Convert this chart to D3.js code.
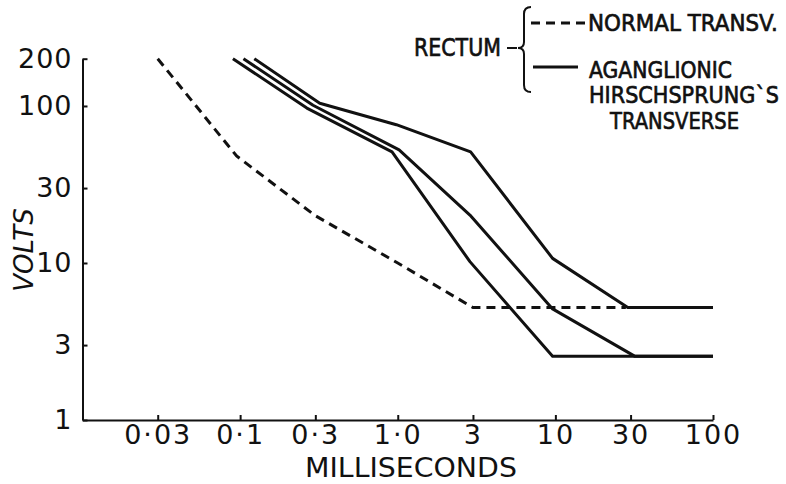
<!DOCTYPE html>
<html>
<head>
<meta charset="utf-8">
<script src="https://cdn.jsdelivr.net/npm/d3@7"></script>
<style>
  html, body { margin: 0; padding: 0; background: #fff; }
  svg { display: block; }
  .tick text { font-family: "DejaVu Sans", sans-serif; fill: #111; }
</style>
</head>
<body>
<svg id="chart" width="786" height="484"></svg>
<script>
// ---- data ----
const xTicks = [0.03, 0.1, 0.3, 1, 3, 10, 30, 100];
const xTickLabels = ["0·03", "0·1", "0·3", "1·0", "3", "10", "30", "100"];
const yTicks = [1, 3, 10, 30, 100, 200];
const yTickLabels = ["1", "3", "10", "30", "100", "200"];

// Normal transverse (dashed)
const normalX = [0.03, 0.095, 0.3, 1, 3, 28];
const normalY = [200, 48, 20, 10, 5.2, 5.2];
// Aganglionic Hirschsprung's transverse (solid), three curves
const aganA_X = [0.123, 0.32, 0.98, 2.9, 9.6, 28.8, 100];
const aganA_Y = [200, 104, 76, 51, 10.7, 5.2, 5.2];
const aganB_X = [0.105, 0.29, 1.02, 2.87, 9.6, 31.8, 100];
const aganB_Y = [200, 101, 52.5, 20.2, 5.1, 2.55, 2.55];
const aganC_X = [0.09, 0.265, 0.92, 2.87, 9.6, 100];
const aganC_Y = [200, 97, 51, 10.2, 2.55, 2.55];

const svg = d3.select("#chart");
const ink = "#111";

const x = d3.scaleLog().domain([0.01, 100]).range([82.5, 713]);
const y = d3.scaleLog().domain([1, 200]).range([420, 58.7]);

// axes
const xAxis = d3.axisBottom(x).tickValues(xTicks)
  .tickFormat((d, i) => xTickLabels[i]).tickSize(-5).tickSizeOuter(0).tickPadding(5);
const gx = svg.append("g").attr("transform", `translate(0,${y(1)})`).call(xAxis);
gx.selectAll("text").attr("font-size", 27).style("letter-spacing", "2px");

const yAxis = d3.axisLeft(y).tickValues(yTicks)
  .tickFormat((d, i) => yTickLabels[i]).tickSize(-5).tickSizeOuter(0).tickPadding(10);
const gy = svg.append("g").attr("transform", `translate(${x(0.01)},0)`).call(yAxis);
gy.selectAll("text").attr("font-size", 27).style("letter-spacing", "1px");

svg.selectAll(".domain, .tick line").attr("stroke", ink).attr("stroke-width", 2);

// text fitted to a width by horizontal scaling
function fitText(parent, t, xPos, yPos, width, size, extra) {
  const el = parent.append("text").attr("x", 0).attr("y", 0)
    .attr("font-family", "DejaVu Sans, sans-serif").attr("font-size", size)
    .attr("fill", ink).text(t);
  if (extra) extra(el);
  const w = el.node().getComputedTextLength();
  el.attr("transform", `translate(${xPos},${yPos}) scale(${width / w},1)`);
  return el;
}

// axis titles
fitText(svg, "MILLISECONDS", 305, 477, 212, 27);
svg.append("text").attr("transform", "translate(33,250) rotate(-90)")
  .attr("text-anchor", "middle").attr("font-family", "DejaVu Sans, sans-serif")
  .attr("font-style", "italic").attr("font-size", 26).attr("fill", ink).text("VOLTS");

// lines
const line = d3.line().x(d => x(d[0])).y(d => y(d[1]));
const zip = (a, b) => a.map((v, i) => [v, b[i]]);

svg.append("path").datum(zip(normalX, normalY)).attr("d", line)
  .attr("fill", "none").attr("stroke", ink).attr("stroke-width", 3)
  .attr("stroke-dasharray", "9,6");

[[aganA_X, aganA_Y], [aganB_X, aganB_Y], [aganC_X, aganC_Y]].forEach(([xs, ys]) => {
  svg.append("path").datum(zip(xs, ys)).attr("d", line)
    .attr("fill", "none").attr("stroke", ink).attr("stroke-width", 3)
    .attr("stroke-linejoin", "round");
});

// legend
const lg = svg.append("g");
const bolden = el => el.attr("stroke", ink).attr("stroke-width", 0.7);
fitText(lg, "RECTUM", 414, 56, 87, 24, bolden);
lg.append("line").attr("x1", 507).attr("x2", 517).attr("y1", 48).attr("y2", 48)
  .attr("stroke", ink).attr("stroke-width", 2);
lg.append("path")
  .attr("d", "M531,7 Q524,7 524,14 L524,42 Q524,48 518,48 Q524,48 524,54 L524,85 Q524,92 531,92")
  .attr("fill", "none").attr("stroke", ink).attr("stroke-width", 2);
lg.append("line").attr("x1", 531).attr("x2", 587).attr("y1", 23).attr("y2", 23)
  .attr("stroke", ink).attr("stroke-width", 3).attr("stroke-dasharray", "9,6");
fitText(lg, "NORMAL TRANSV.", 588, 31, 190, 23, bolden);
lg.append("line").attr("x1", 533).attr("x2", 578).attr("y1", 67).attr("y2", 67)
  .attr("stroke", ink).attr("stroke-width", 3);
fitText(lg, "AGANGLIONIC", 589, 78, 143, 23, bolden);
fitText(lg, "HIRSCHSPRUNG`S", 589, 103, 190, 23, bolden);
fitText(lg, "TRANSVERSE", 610, 129, 129, 23, bolden);
</script>
</body>
</html>
